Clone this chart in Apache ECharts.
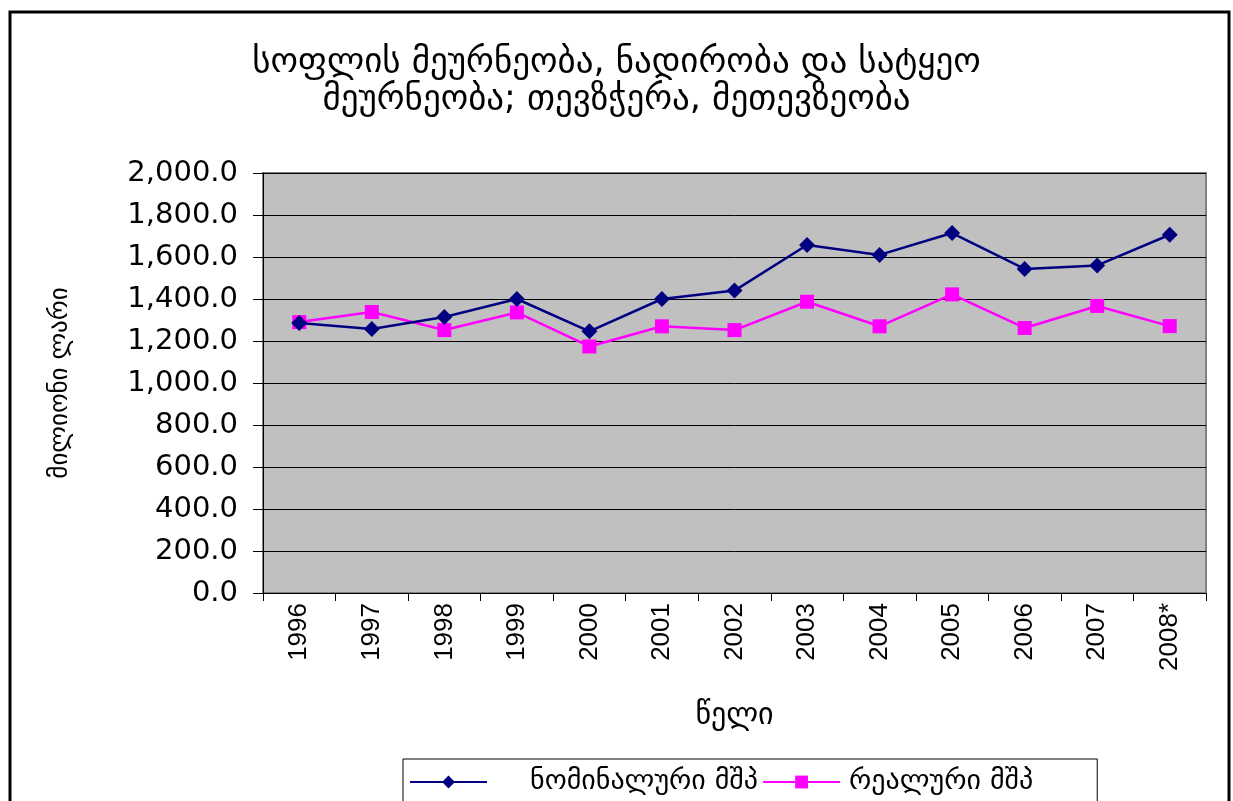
<!DOCTYPE html>
<html><head><meta charset="utf-8">
<script src="https://cdn.jsdelivr.net/npm/echarts@6/dist/echarts.min.js"></script>
<style>html,body{margin:0;padding:0;background:#fff}#c{width:1233px;height:801px}</style>
</head><body><div id="c"></div>
<script>
const titleLines = ['სოფლის მეურნეობა, ნადირობა და სატყეო', 'მეურნეობა; თევზჭერა, მეთევზეობა'];
const yAxisName = 'მილიონი ლარი';
const xAxisName = 'წელი';
const categories = ['1996','1997','1998','1999','2000','2001','2002','2003','2004','2005','2006','2007','2008*'];
const nominalName = 'ნომინალური მშპ';
const realName = 'რეალური მშპ';
const nominal = [1286,1257,1314,1400,1246,1400,1440,1657,1610,1714,1543,1560,1706];
const real = [1290,1338,1252,1336,1174,1270,1252,1387,1270,1422,1262,1367,1271];

const geo = 'DejaVu Sans, Noto Sans, sans-serif';
const chart = echarts.init(document.getElementById('c'), null, {renderer:'canvas'});
chart.setOption({
  animation:false,
  backgroundColor:'#fff',
  title:{
    text: titleLines.join('\n'),
    left: 'center', top: 39,
    textStyle:{fontFamily:geo, fontSize:35, fontWeight:'normal', color:'#000', lineHeight:37}
  },
  graphic:[{
    type:'rect', shape:{x:10, y:12, width:1219, height:800},
    style:{fill:'none', stroke:'#000', lineWidth:3}, z:100
  }],
  legend:{
    left:403, top:759, orient:'horizontal',
    backgroundColor:'#fff',
    borderColor:'#000', borderWidth:1, padding:[9, 64, 40, 6],
    itemWidth:77, itemHeight:16, itemGap:4,
    textStyle:{fontFamily:geo, fontSize:28, color:'#000'},
    data:[
      {name:nominalName, textStyle:{padding:[0,0,0,38]}},
      {name:realName, textStyle:{padding:[0,0,0,4]}}
    ]
  },
  grid:{left:263, right:27, top:173, bottom:208, show:true, backgroundColor:'#C0C0C0', borderColor:'#808080', borderWidth:2},
  xAxis:{
    type:'category', data:categories, boundaryGap:true,
    name:xAxisName, nameLocation:'middle', nameGap:108,
    nameTextStyle:{fontFamily:geo, fontSize:30, fontWeight:'normal', color:'#000'},
    axisLine:{lineStyle:{color:'#000', width:1}},
    axisTick:{show:true, length:8, lineStyle:{color:'#000'}},
    axisLabel:{rotate:90, fontFamily:'Liberation Sans, Arial, sans-serif', fontSize:26, color:'#000', margin:10}
  },
  yAxis:{
    type:'value', min:0, max:2000, interval:200,
    name:yAxisName, nameLocation:'middle', nameGap:190, nameRotate:90,
    nameTextStyle:{fontFamily:geo, fontSize:25, fontWeight:'normal', color:'#000'},
    axisLine:{show:true, lineStyle:{color:'#000'}},
    axisTick:{show:true, length:10, lineStyle:{color:'#000'}},
    splitLine:{show:true, lineStyle:{color:'#000', width:1}},
    axisLabel:{fontFamily:'DejaVu Sans, Liberation Sans, sans-serif', fontSize:29, color:'#000', margin:25,
      formatter:v=>v.toLocaleString('en-US',{minimumFractionDigits:1, maximumFractionDigits:1})}
  },
  series:[
    {name:nominalName, type:'line', data:nominal, symbol:'diamond', symbolSize:16,
     lineStyle:{color:'#000080', width:2.5}, itemStyle:{color:'#000080'}, z:3},
    {name:realName, type:'line', data:real, symbol:'rect', symbolSize:14,
     lineStyle:{color:'#FF00FF', width:2.5}, itemStyle:{color:'#FF00FF'}, z:2}
  ]
});
</script></body></html>
